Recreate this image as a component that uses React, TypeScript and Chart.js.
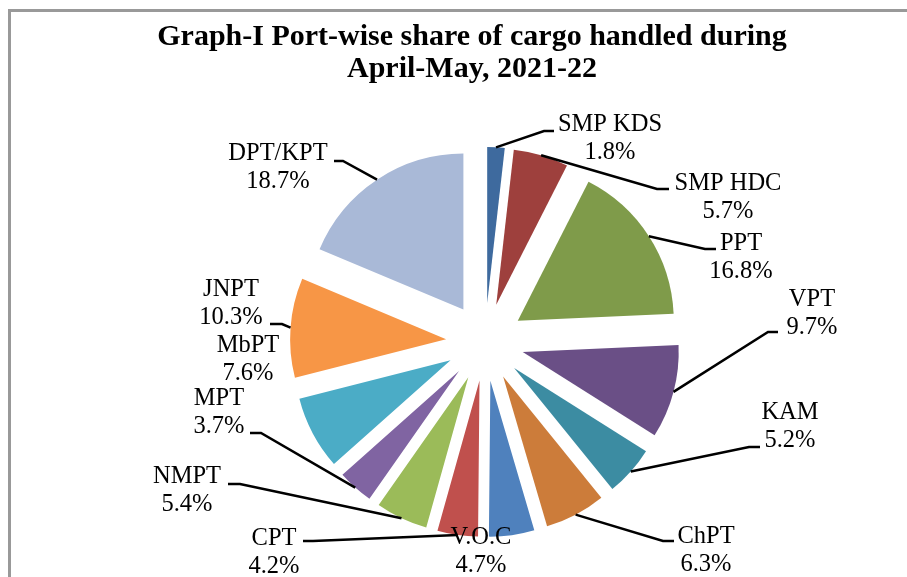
import React, { useEffect, useRef } from 'react';
import { Chart, registerables } from 'chart.js';

Chart.register(...registerables);

// ---- data ----
const ports = ['SMP KDS', 'SMP HDC', 'PPT', 'VPT', 'KAM', 'ChPT', 'V.O.C', 'CPT', 'NMPT', 'MPT', 'MbPT', 'JNPT', 'DPT/KPT'];
const shares = [1.8, 5.7, 16.8, 9.7, 5.2, 6.3, 4.7, 4.2, 5.4, 3.7, 7.6, 10.3, 18.7];
const sliceColors = [
  '#3E6A9E', '#9E403D', '#7F9B4A', '#6A4F86', '#3C8CA2', '#CC7C3A',
  '#4F81BD', '#C0504D', '#9BBB59', '#8064A2', '#4BACC6', '#F79646', '#A9B9D7',
];
const titleLines = ['Graph-I Port-wise share of cargo handled during', 'April-May, 2021-22'];

// ---- layout (pixels) ----
const CANVAS_W = 922;
const CANVAS_H = 600;
const PIE_RADIUS = 156;
const EXPLODE = 39;
const FONT = "'Liberation Serif', 'Times New Roman', serif";
// label anchor (centre x, first baseline) and leader elbow/end, relative to pie centre
const labelLayout: { t: [number, number]; l: [number, number][] | null }[] = [
  { t: [125, -211], l: [[59, -211], [69, -211]] },
  { t: [243, -152], l: [[172, -153], [184, -153]] },
  { t: [256, -92], l: [[220, -93], [231, -93]] },
  { t: [327, -36], l: [[283, -10], [293, -10]] },
  { t: [305, 77], l: [[264, 105], [275, 105]] },
  { t: [221, 201], l: [[178, 199], [189, 199]] },
  { t: [-4, 202], l: null },
  { t: [-211, 203], l: [[-172, 199], [-182, 199]] },
  { t: [-298, 141], l: [[-245, 142], [-257, 142]] },
  { t: [-266, 63], l: [[-224, 91], [-235, 91]] },
  { t: [-237, 10], l: null },
  { t: [-254, -46], l: [[-203, -18], [-215, -18]] },
  { t: [-207, -182], l: [[-142, -181], [-151, -181]] },
];

const explodePlugin = {
  id: 'explodedSlices',
  beforeDatasetDraw(chart: any, args: any) {
    const ctx = chart.ctx;
    args.meta.data.forEach((arc: any) => {
      const { startAngle, endAngle } = arc.getProps(['startAngle', 'endAngle'], true);
      const mid = (startAngle + endAngle) / 2;
      ctx.save();
      ctx.translate(Math.cos(mid) * EXPLODE, Math.sin(mid) * EXPLODE);
      arc.draw(ctx, chart.chartArea);
      ctx.restore();
    });
    return false;
  },
  afterDraw(chart: any) {
    const ctx = chart.ctx;
    ctx.save();
    // title
    ctx.fillStyle = '#000';
    ctx.textAlign = 'center';
    ctx.textBaseline = 'alphabetic';
    ctx.font = `bold 30px ${FONT}`;
    ctx.fillText(titleLines[0], CANVAS_W / 2, 33);
    ctx.fillText(titleLines[1], CANVAS_W / 2, 65);

    const meta = chart.getDatasetMeta(0);
    ctx.font = `24.5px ${FONT}`;
    meta.data.forEach((arc: any, i: number) => {
      const { x, y, startAngle, endAngle, outerRadius } = arc.getProps(
        ['x', 'y', 'startAngle', 'endAngle', 'outerRadius'], true);
      const mid = (startAngle + endAngle) / 2;
      const lay = labelLayout[i];
      if (lay.l) {
        const sx = x + Math.cos(mid) * (outerRadius + EXPLODE);
        const sy = y + Math.sin(mid) * (outerRadius + EXPLODE);
        ctx.beginPath();
        ctx.moveTo(sx, sy);
        lay.l.forEach((p) => ctx.lineTo(x + p[0], y + p[1]));
        ctx.lineWidth = 2.5;
        ctx.strokeStyle = '#000';
        ctx.stroke();
      }
      const tx = x + lay.t[0];
      const ty = y + lay.t[1];
      ctx.fillText(ports[i], tx, ty);
      ctx.fillText(shares[i].toFixed(1) + '%', tx, ty + 28);
    });
    ctx.restore();
  },
};

export default function App() {
  const ref = useRef<HTMLCanvasElement | null>(null);
  useEffect(() => {
    if (!ref.current) return;
    const chart = new Chart(ref.current, {
      type: 'pie',
      data: {
        labels: ports,
        datasets: [{
          data: shares,
          backgroundColor: sliceColors,
          borderWidth: 0,
        }],
      },
      options: {
        animation: false,
        responsive: false,
        radius: PIE_RADIUS,
        layout: { padding: { left: 26, right: 0, top: 90, bottom: 30 } },
        plugins: {
          legend: { display: false },
          title: { display: false },
          tooltip: { enabled: false },
        },
      } as any,
      plugins: [explodePlugin],
    });
    return () => chart.destroy();
  }, []);
  return (
    <div style={{
      position: 'fixed', left: 8, top: 9, width: CANVAS_W, height: CANVAS_H,
      border: '3px solid #999', background: '#fff',
    }}>
      <canvas ref={ref} width={CANVAS_W} height={CANVAS_H} style={{ display: 'block', width: CANVAS_W, height: CANVAS_H }} />
    </div>
  );
}
